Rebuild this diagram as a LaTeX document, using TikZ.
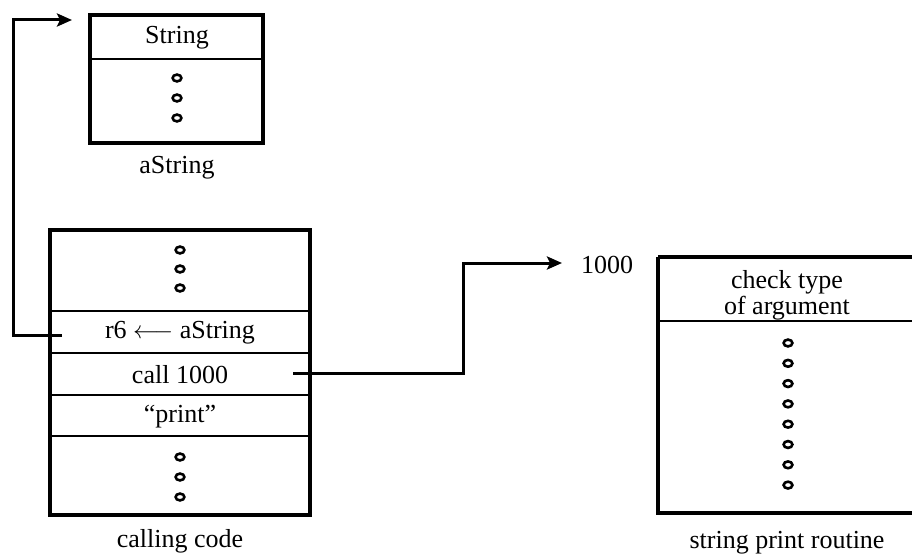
\documentclass[tikz,border=0pt]{standalone}
\usepackage{fontspec}
\setmainfont{Liberation Serif}
\usetikzlibrary{arrows.meta}
\tikzset{
  outer/.style={line width=3.4pt},
  sep/.style={line width=2.4pt},
  conn/.style={line width=3pt},
  arr/.style={conn,-{Stealth[length=15pt,width=13pt,inset=3pt]}},
  lbl/.style={inner sep=0pt,font=\fontsize{26}{30}\selectfont},
  dotmark/.style={line width=2.6pt,x radius=4.4pt,y radius=3.4pt}
}
\begin{document}
\begin{tikzpicture}[x=1pt,y=-1pt]
\useasboundingbox (0,0) rectangle (912,559);
% ---- String object
\draw[sep] (90,59) -- (263,59);
\draw[outer] (90,15) rectangle (263,143);
\node[lbl] (strhead) at (177,38) {String};
\foreach \yy in {78,98,118} \draw[dotmark] (177,\yy) ellipse [];
\node[lbl] (astring) at (177,168) {aString};
\coordinate (strtip) at (72,20);
% ---- calling code
\foreach \yy in {311,353,395,436} \draw[sep] (50,\yy) -- (310,\yy);
\draw[outer] (50,230) rectangle (310,515);
\foreach \yy in {250,269,288,457,477,497} \draw[dotmark] (180,\yy) ellipse [];
\node[lbl] (r6) at (180,333) {r6 $\longleftarrow$ aString};
\node[lbl] (call) at (180,375) {call 1000};
\node[lbl] (print) at (180,417) {``print''};
\node[lbl] (calling) at (180,541) {calling code};
\coordinate (r6src) at (62,335);
\coordinate (callsrc) at (293,373);
% ---- string print routine
\draw[sep] (658,321) -- (915,321);
\draw[outer] (658,257) -- (915,257) (658,257) -- (658,513) -- (915,513);
\node[lbl,align=center,font=\fontsize{26}{26}\selectfont] (check) at (787,295) {check type\\of argument};
\foreach \k in {0,...,7} \draw[dotmark] (788,343+\k*20.3) ellipse [];
\node[lbl] (routine) at (787,543) {string print routine};
\node[lbl] (addr) at (607,265) {1000};
\coordinate (calltip) at (562,263);
% ---- connectors
\draw[arr] (r6src) -- (13,335) |- (strtip);
\draw[arr] (callsrc) -- (463,373) |- (calltip);
\end{tikzpicture}
\end{document}
